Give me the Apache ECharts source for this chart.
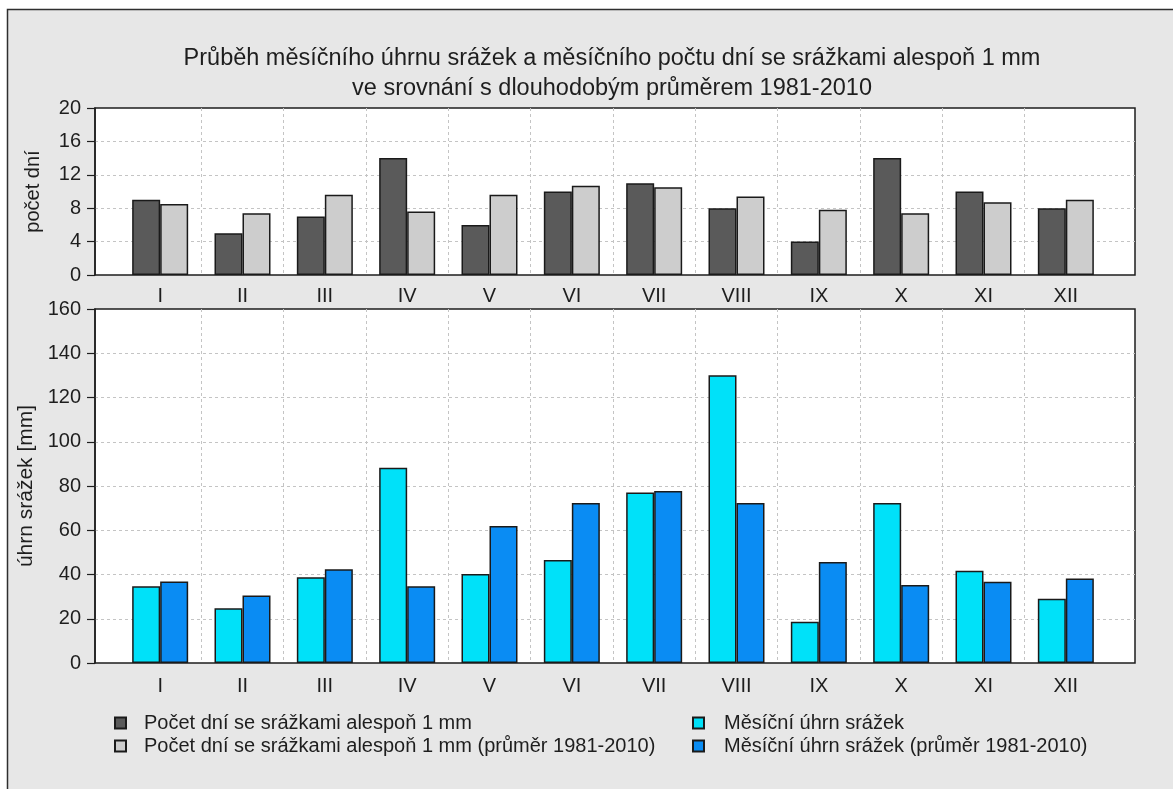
<!DOCTYPE html>
<html>
<head>
<meta charset="utf-8">
<script src="https://cdn.jsdelivr.net/npm/echarts@6/dist/echarts.min.js"></script>
<style>
  html, body { margin: 0; padding: 0; background: #fff; }
  #chart { width: 1173px; height: 789px; }
</style>
</head>
<body>
<div id="chart"></div>
<script>
const months = ['I', 'II', 'III', 'IV', 'V', 'VI', 'VII', 'VIII', 'IX', 'X', 'XI', 'XII']

// počet dní se srážkami >= 1 mm
const daysActual = [9, 5, 7, 14, 6, 10, 11, 8, 4, 14, 10, 8]
const daysNormal = [8.5, 7.4, 9.6, 7.6, 9.6, 10.7, 10.5, 9.4, 7.8, 7.4, 8.7, 9.0]

// měsíční úhrn srážek [mm]
const rainActual = [34.7, 24.8, 38.8, 88.3, 40.2, 46.5, 77.1, 130.1, 18.6, 72.3, 41.7, 29.0]
const rainNormal = [36.8, 30.5, 42.4, 34.7, 61.9, 72.3, 77.7, 72.3, 45.7, 35.3, 36.7, 38.2]

const dayTicks = [0, 20, 4]
const rainTicks = [0, 160, 20]

const NAMES = {
  daysActual: 'Počet dní se srážkami alespoň 1 mm',
  daysNormal: 'Počet dní se srážkami alespoň 1 mm (průměr 1981-2010)',
  rainActual: 'Měsíční úhrn srážek',
  rainNormal: 'Měsíční úhrn srážek (průměr 1981-2010)'
}

const FONT = 'Liberation Sans, Arial, sans-serif'
const TEXT = '#1e1e1e'
const gridDash = { color: '#c4c4c4', type: [3, 3], width: 1 }
const barBorder = { borderColor: '#1a1a1a', borderWidth: 1.5 }

// frame grids carry the white box, border and y axis; data grids carry the categories
const PLOT_L = 95, PLOT_W = 1040
const CAT_L = 119, CAT_W = 988

function frameY(ticks, name, gridIndex, nameSize) {
  return {
    type: 'value',
    gridIndex,
    min: ticks[0],
    max: ticks[1],
    interval: ticks[2],
    name,
    nameLocation: 'middle',
    nameRotate: 90,
    nameGap: 52,
    nameTextStyle: { color: TEXT, fontSize: nameSize, fontFamily: FONT },
    axisLine: { show: true, lineStyle: { color: '#1e1e1e', width: 1.5 } },
    axisTick: { show: true, length: 8, lineStyle: { color: '#1e1e1e', width: 1.2 } },
    axisLabel: { color: TEXT, fontSize: 20, fontFamily: FONT, margin: 14 },
    splitLine: { show: true, lineStyle: gridDash, showMinLine: false, showMaxLine: false }
  }
}

function catX(gridIndex, margin) {
  return {
    type: 'category',
    gridIndex,
    data: months,
    boundaryGap: true,
    axisLine: { show: false },
    axisTick: { show: false },
    axisLabel: { color: TEXT, fontSize: 20, fontFamily: FONT, margin },
    splitLine: { show: true, lineStyle: gridDash, showMinLine: false, showMaxLine: false }
  }
}

function hiddenX(gridIndex) {
  return { type: 'value', gridIndex, show: false, splitLine: { show: false } }
}

function hiddenY(ticks, gridIndex) {
  return { type: 'value', gridIndex, min: ticks[0], max: ticks[1], show: false, splitLine: { show: false } }
}

function bar(name, data, color, axis) {
  return {
    name,
    type: 'bar',
    xAxisIndex: axis,
    yAxisIndex: axis,
    data,
    barWidth: 28,
    barGap: '0%',
    itemStyle: { color, ...barBorder },
    emphasis: { disabled: true }
  }
}

function legend(names, left, pad) {
  return {
    data: names,
    orient: 'vertical',
    left,
    top: 708,
    itemWidth: 11,
    itemHeight: 11,
    itemGap: 3,
    icon: 'rect',
    selectedMode: false,
    textStyle: { color: TEXT, fontSize: 20, lineHeight: 20, fontFamily: FONT, padding: [0, 0, 0, pad] }
  }
}

const option = {
  backgroundColor: '#ffffff',
  animation: false,
  graphic: {
    elements: [{
      type: 'rect',
      z: -100,
      shape: { x: 7.5, y: 9.5, width: 1200, height: 820 },
      style: { fill: '#e7e7e7', stroke: '#2e2e2e', lineWidth: 1.5 }
    }]
  },
  title: {
    text: 'Průběh měsíčního úhrnu srážek a měsíčního počtu dní se srážkami alespoň 1 mm\nve srovnání s dlouhodobým průměrem 1981-2010',
    left: 607,
    top: 39,
    textAlign: 'center',
    textStyle: { color: TEXT, fontSize: 23.5, fontWeight: 'normal', fontFamily: FONT, lineHeight: 30 }
  },
  grid: [
    { left: PLOT_L, top: 108, width: PLOT_W, height: 167, show: true, backgroundColor: '#fff', borderColor: '#1e1e1e', borderWidth: 1.5 },
    { left: CAT_L, top: 108, width: CAT_W, height: 167 },
    { left: PLOT_L, top: 309, width: PLOT_W, height: 354, show: true, backgroundColor: '#fff', borderColor: '#1e1e1e', borderWidth: 1.5 },
    { left: CAT_L, top: 309, width: CAT_W, height: 354 }
  ],
  xAxis: [hiddenX(0), catX(1, 11), hiddenX(2), catX(3, 13)],
  yAxis: [
    frameY(dayTicks, 'počet dní', 0, 20),
    hiddenY(dayTicks, 1),
    frameY(rainTicks, 'úhrn srážek [mm]', 2, 21),
    hiddenY(rainTicks, 3)
  ],
  legend: [
    legend([NAMES.daysActual, NAMES.daysNormal], 109, 13),
    legend([NAMES.rainActual, NAMES.rainNormal], 687, 15)
  ],
  series: [
    bar(NAMES.daysActual, daysActual, '#5a5a5a', 1),
    bar(NAMES.daysNormal, daysNormal, '#cdcdcd', 1),
    bar(NAMES.rainActual, rainActual, '#00e1f9', 3),
    bar(NAMES.rainNormal, rainNormal, '#0a8cf3', 3)
  ]
}

const chart = echarts.init(document.getElementById('chart'))
chart.setOption(option)
</script>
</body>
</html>
